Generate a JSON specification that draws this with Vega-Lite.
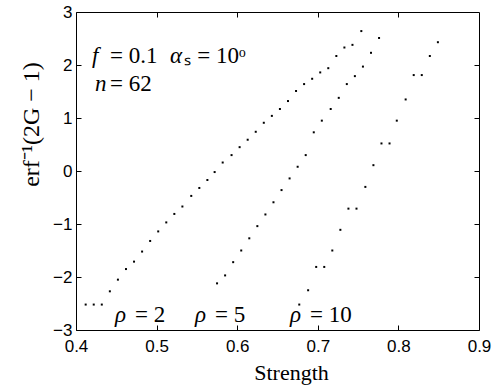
{
  "$schema": "https://vega.github.io/schema/vega-lite/v6.json",
  "width": 403,
  "height": 318,
  "autosize": {"type": "none"},
  "padding": {"left": 76, "top": 12, "right": 13, "bottom": 59},
  "background": "white",
  "config": {
    "view": {"stroke": "black", "strokeWidth": 1},
    "axis": {"grid": false, "domain": false, "tickColor": "black", "tickSize": -5, "labelColor": "black", "titleColor": "black", "labelFont": "Liberation Sans", "labelFontSize": 17, "titleFont": "Liberation Serif", "titleFontSize": 22, "titleFontWeight": "normal"}
  },
  "datasets": {
    "pts": [
      {"s": "2", "x": 0.412, "y": -2.52}, {"s": "2", "x": 0.422, "y": -2.52}, {"s": "2", "x": 0.432, "y": -2.52},
      {"s": "2", "x": 0.442, "y": -2.27}, {"s": "2", "x": 0.452, "y": -2.05}, {"s": "2", "x": 0.462, "y": -1.85},
      {"s": "2", "x": 0.472, "y": -1.71}, {"s": "2", "x": 0.482, "y": -1.52}, {"s": "2", "x": 0.492, "y": -1.32},
      {"s": "2", "x": 0.502, "y": -1.14}, {"s": "2", "x": 0.512, "y": -0.97}, {"s": "2", "x": 0.522, "y": -0.81},
      {"s": "2", "x": 0.532, "y": -0.67}, {"s": "2", "x": 0.543, "y": -0.47}, {"s": "2", "x": 0.553, "y": -0.32},
      {"s": "2", "x": 0.563, "y": -0.17}, {"s": "2", "x": 0.572, "y": -0.02}, {"s": "2", "x": 0.582, "y": 0.16},
      {"s": "2", "x": 0.593, "y": 0.30}, {"s": "2", "x": 0.603, "y": 0.45}, {"s": "2", "x": 0.613, "y": 0.59},
      {"s": "2", "x": 0.623, "y": 0.74}, {"s": "2", "x": 0.633, "y": 0.91}, {"s": "2", "x": 0.643, "y": 1.04},
      {"s": "2", "x": 0.653, "y": 1.17}, {"s": "2", "x": 0.663, "y": 1.32}, {"s": "2", "x": 0.673, "y": 1.51},
      {"s": "2", "x": 0.683, "y": 1.64}, {"s": "2", "x": 0.693, "y": 1.74}, {"s": "2", "x": 0.703, "y": 1.86},
      {"s": "2", "x": 0.713, "y": 1.94}, {"s": "2", "x": 0.723, "y": 2.17}, {"s": "2", "x": 0.733, "y": 2.33},
      {"s": "2", "x": 0.743, "y": 2.38}, {"s": "2", "x": 0.754, "y": 2.64},
      {"s": "5", "x": 0.575, "y": -2.12}, {"s": "5", "x": 0.585, "y": -1.97}, {"s": "5", "x": 0.595, "y": -1.72},
      {"s": "5", "x": 0.605, "y": -1.50}, {"s": "5", "x": 0.615, "y": -1.27}, {"s": "5", "x": 0.625, "y": -1.04},
      {"s": "5", "x": 0.635, "y": -0.82}, {"s": "5", "x": 0.645, "y": -0.59}, {"s": "5", "x": 0.655, "y": -0.36},
      {"s": "5", "x": 0.665, "y": -0.14}, {"s": "5", "x": 0.675, "y": 0.08}, {"s": "5", "x": 0.685, "y": 0.30},
      {"s": "5", "x": 0.695, "y": 0.73}, {"s": "5", "x": 0.705, "y": 0.95}, {"s": "5", "x": 0.716, "y": 1.17},
      {"s": "5", "x": 0.726, "y": 1.38}, {"s": "5", "x": 0.736, "y": 1.64}, {"s": "5", "x": 0.746, "y": 1.79},
      {"s": "5", "x": 0.756, "y": 1.97}, {"s": "5", "x": 0.766, "y": 2.23}, {"s": "5", "x": 0.776, "y": 2.51},
      {"s": "10", "x": 0.677, "y": -2.52}, {"s": "10", "x": 0.688, "y": -2.25}, {"s": "10", "x": 0.698, "y": -1.81},
      {"s": "10", "x": 0.708, "y": -1.81}, {"s": "10", "x": 0.718, "y": -1.50}, {"s": "10", "x": 0.728, "y": -1.11},
      {"s": "10", "x": 0.738, "y": -0.71}, {"s": "10", "x": 0.748, "y": -0.71}, {"s": "10", "x": 0.759, "y": -0.30},
      {"s": "10", "x": 0.769, "y": 0.11}, {"s": "10", "x": 0.779, "y": 0.52}, {"s": "10", "x": 0.789, "y": 0.52},
      {"s": "10", "x": 0.798, "y": 0.95}, {"s": "10", "x": 0.809, "y": 1.35}, {"s": "10", "x": 0.819, "y": 1.81},
      {"s": "10", "x": 0.829, "y": 1.81}, {"s": "10", "x": 0.839, "y": 2.17}, {"s": "10", "x": 0.849, "y": 2.43}
    ],
    "italic": [
      {"t": "f", "x": 0.4199, "y": 2.04},
      {"t": "α", "x": 0.5166, "y": 2.04},
      {"t": "n", "x": 0.4236, "y": 1.51},
      {"t": "ρ", "x": 0.4484, "y": -2.84},
      {"t": "ρ", "x": 0.5476, "y": -2.84},
      {"t": "ρ", "x": 0.6655, "y": -2.84}
    ],
    "roman": [
      {"t": "= 0.1", "x": 0.4422, "y": 2.04},
      {"t": "ₛ = 10ᵒ", "x": 0.5345, "y": 2.04},
      {"t": "= 62", "x": 0.4422, "y": 1.51},
      {"t": "= 2", "x": 0.4732, "y": -2.84},
      {"t": "= 5", "x": 0.5725, "y": -2.84},
      {"t": "= 10", "x": 0.6903, "y": -2.84}
    ]
  },
  "layer": [
    {
      "data": {"name": "pts"},
      "mark": {"type": "point", "shape": "square", "filled": true, "size": 4, "color": "black", "opacity": 1},
      "encoding": {
        "x": {"field": "x", "type": "quantitative", "scale": {"domain": [0.4, 0.9], "nice": false, "zero": false},
              "axis": {"orient": "bottom", "values": [0.4, 0.5, 0.6, 0.7, 0.8, 0.9], "format": ".1f", "title": "Strength", "labelPadding": 13, "labelBaseline": "top", "labelFlush": false, "titleX": 215, "titleY": 49, "titleBaseline": "alphabetic", "titleAnchor": null}},
        "y": {"field": "y", "type": "quantitative", "scale": {"domain": [-3, 3], "nice": false, "zero": false},
              "axis": {"orient": "left", "values": [-3, -2, -1, 0, 1, 2, 3], "format": "d", "title": "erf⁻¹(2G − 1)", "titleFontSize": 24, "labelPadding": 9, "labelFlush": false, "titleX": -38, "titleY": 112, "titleAngle": 270, "titleBaseline": "alphabetic", "titleAlign": "center"}}
      }
    },
    {
      "data": {"name": "pts"},
      "mark": {"type": "point", "opacity": 0},
      "encoding": {
        "x": {"field": "x", "type": "quantitative", "axis": {"orient": "top", "values": [0.5, 0.6, 0.7, 0.8], "labels": false, "title": null}},
        "y": {"field": "y", "type": "quantitative", "axis": {"orient": "right", "values": [-2, -1, 0, 1, 2], "labels": false, "title": null}}
      }
    },
    {
      "data": {"name": "italic"},
      "mark": {"type": "text", "align": "left", "baseline": "alphabetic", "font": "Liberation Serif", "fontStyle": "italic", "fontSize": 23, "color": "black"},
      "encoding": {
        "x": {"field": "x", "type": "quantitative", "axis": null},
        "y": {"field": "y", "type": "quantitative", "axis": null},
        "text": {"field": "t"}
      }
    },
    {
      "data": {"name": "roman"},
      "mark": {"type": "text", "align": "left", "baseline": "alphabetic", "font": "Liberation Serif", "fontSize": 23, "color": "black"},
      "encoding": {
        "x": {"field": "x", "type": "quantitative", "axis": null},
        "y": {"field": "y", "type": "quantitative", "axis": null},
        "text": {"field": "t"}
      }
    }
  ],
  "resolve": {"axis": {"x": "independent", "y": "independent"}}
}
